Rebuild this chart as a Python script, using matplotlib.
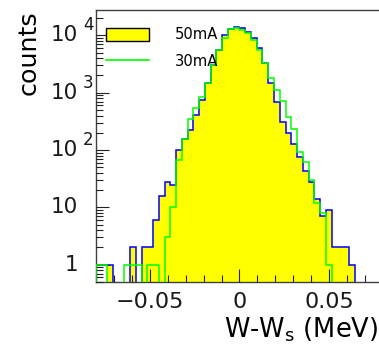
import numpy as np
import matplotlib
matplotlib.use("Agg")
import matplotlib.pyplot as plt
from matplotlib.patches import Patch
from matplotlib.lines import Line2D
from matplotlib.ticker import LogLocator, MultipleLocator, NullFormatter

plt.rcParams["mathtext.default"] = "regular"

# binning of W-Ws (MeV): 50 bins between -0.08 and 0.08
x_min, x_max, n_bins = -0.08, 0.08, 50
edges = np.linspace(x_min, x_max, n_bins + 1)

# counts per bin
counts_50mA = [1, 1, 1, 0, 0, 0, 2, 0, 2, 2,
               6, 16, 28, 25, 100, 159, 222, 406, 740, 1450,
               3030, 5540, 10100, 12900, 14100, 13400, 11300, 8870, 6080, 3330,
               1450, 694, 310, 200, 130, 76, 43, 28, 14, 7,
               9, 2, 2, 2, 1, 0, 0, 0, 0, 0]
counts_30mA = [1, 1, 0, 0, 0, 1, 1, 1, 0, 1,
               1, 0, 3, 10, 67, 159, 342, 540, 850, 1450,
               3030, 5540, 8870, 12900, 13400, 12500, 11100, 8200, 5540, 3330,
               1780, 1130, 722, 370, 229, 93, 62, 30, 12, 8,
               1, 0, 0, 0, 0, 0, 0, 0, 0, 0]
# the yellow fill of the 50mA histogram is missing in the first two bins
fill_50mA = [0, 0] + counts_50mA[2:]

y_decades = [1, 10, 100, 1000, 10000]
y_base_labels = ["1", "10", "10", "10", "10"]
y_exp_labels = ["", "", "2", "3", "4"]
x_ticks = [-0.05, 0.0, 0.05]
x_tick_labels = ["\u22120.05", "0", "0.05"]

fig = plt.figure(figsize=(3.79, 3.50), dpi=100)
ax = fig.add_axes([0.2525, 0.1943, 0.7588, 0.7771])

ax.stairs(fill_50mA, edges, fill=True, color="#ffff00", baseline=1e-3, zorder=1)
ax.stairs(counts_50mA, edges, color="#0000ff", lw=1.1, baseline=1e-3, zorder=2)
ax.stairs(counts_30mA, edges, color="#00ff00", lw=1.1, baseline=1e-3, zorder=3)

ax.set_yscale("log")
ax.set_xlim(x_min, x_max)
ax.set_ylim(0.5, 27700)
ax.set_axisbelow(False)

for side in ["left", "top", "bottom"]:
    ax.spines[side].set_color("#404040")
    ax.spines[side].set_linewidth(1.0)
ax.spines["right"].set_visible(False)

# x axis
ax.set_xticks(x_ticks)
ax.set_xticklabels(x_tick_labels, fontsize=16, color="#1a1a1a")
ax.xaxis.set_minor_locator(MultipleLocator(0.01))
ax.tick_params(axis="x", which="major", direction="in", length=9.5, width=0.8, color="#222222", pad=7)
ax.tick_params(axis="x", which="minor", direction="in", length=4.8, width=0.8, color="#222222")

# y axis, ROOT style labels drawn as "10" plus a raised exponent
ax.set_yticks(y_decades)
ax.set_yticklabels([])
ax.yaxis.set_minor_locator(LogLocator(base=10, subs=np.arange(2, 10), numticks=20))
ax.yaxis.set_minor_formatter(NullFormatter())
ax.tick_params(axis="y", which="major", direction="in", length=9.5, width=0.8, color="#222222")
ax.tick_params(axis="y", which="minor", direction="in", length=4.8, width=0.8, color="#222222")
for v, base, ex in zip(y_decades, y_base_labels, y_exp_labels):
    ax.annotate(base, xy=(0, v), xycoords=ax.get_yaxis_transform(), xytext=(-12.7, 0),
                textcoords="offset points", ha="right", va="center", fontsize=15.5,
                color="#1a1a1a")
    if ex:
        ax.annotate(ex, xy=(0, v), xycoords=ax.get_yaxis_transform(), xytext=(-9.1, 7.2),
                    textcoords="offset points", ha="left", va="center", fontsize=12,
                    color="#1a1a1a")

ax.set_ylabel("counts", fontsize=18.3, loc="top")
ax.yaxis.set_label_coords(-0.19, 1.0)
ax.set_xlabel("W-W$_{s}$ (MeV)", fontsize=18.5, loc="right")
ax.xaxis.set_label_coords(0.982, -0.125)

handles = [Patch(facecolor="#ffff00", edgecolor="black", linewidth=1.0),
           Line2D([], [], color="#00ff00", lw=1.2)]
ax.legend(handles, ["50mA", "30mA"], loc="upper left", bbox_to_anchor=(0.0358, 0.936),
          frameon=False, fontsize=10.6, borderpad=0, borderaxespad=0,
          handlelength=2.93, handleheight=0.95, handletextpad=1.77, labelspacing=0.77)

fig.savefig("out.png", dpi=100)
